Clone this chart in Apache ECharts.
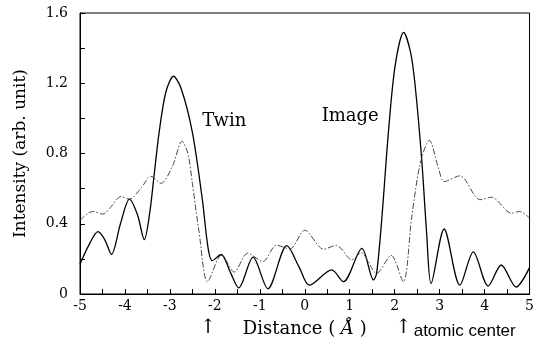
<!DOCTYPE html>
<html>
<head>
<meta charset="utf-8">
<script src="https://cdn.jsdelivr.net/npm/echarts@6/dist/echarts.min.js"></script>
<style>
  html, body { margin: 0; padding: 0; background: #fff; }
  #chart { width: 537px; height: 354px; }
</style>
</head>
<body>
<div id="chart"></div>
<script>
// image intensity (solid) – [distance, intensity]
const imageCurve = [
  [-5.0, 0.17], [-4.8, 0.28], [-4.6, 0.355], [-4.45, 0.31], [-4.3, 0.225],
  [-4.1, 0.40], [-3.9, 0.54], [-3.72, 0.45], [-3.57, 0.31], [-3.45, 0.46],
  [-3.35, 0.68], [-3.24, 0.92], [-3.09, 1.15], [-2.92, 1.24], [-2.75, 1.17],
  [-2.5, 0.92], [-2.28, 0.54], [-2.15, 0.26], [-2.06, 0.19], [-1.86, 0.225],
  [-1.65, 0.12], [-1.47, 0.035], [-1.15, 0.21], [-0.82, 0.03], [-0.4, 0.275],
  [-0.12, 0.15], [0.1, 0.05], [0.6, 0.137], [0.86, 0.07], [1.27, 0.26],
  [1.53, 0.08], [1.6, 0.12], [1.72, 0.45], [1.86, 0.92], [2.01, 1.30],
  [2.2, 1.49], [2.35, 1.38], [2.45, 1.20], [2.6, 0.77], [2.71, 0.35],
  [2.81, 0.06], [3.1, 0.37], [3.45, 0.05], [3.75, 0.24], [4.08, 0.045],
  [4.37, 0.165], [4.7, 0.04], [5.0, 0.15]
]

// twin intensity (dash-dot)
const twinCurve = [
  [-5.0, 0.42], [-4.72, 0.47], [-4.49, 0.455], [-4.3, 0.50], [-4.09, 0.555],
  [-3.9, 0.54], [-3.65, 0.60], [-3.42, 0.67], [-3.2, 0.63], [-2.94, 0.73],
  [-2.73, 0.87], [-2.6, 0.80], [-2.5, 0.63], [-2.35, 0.35], [-2.16, 0.07],
  [-1.85, 0.222], [-1.57, 0.125], [-1.27, 0.232], [-0.93, 0.185], [-0.63, 0.278],
  [-0.33, 0.257], [0.0, 0.363], [0.42, 0.255], [0.7, 0.277], [1.05, 0.195],
  [1.25, 0.235], [1.6, 0.118], [1.92, 0.22], [2.19, 0.07], [2.38, 0.44],
  [2.57, 0.745], [2.77, 0.875], [2.97, 0.72], [3.1, 0.64], [3.45, 0.673],
  [3.9, 0.537], [4.15, 0.551], [4.6, 0.46], [4.78, 0.47], [5.0, 0.432]
]

const textLabels = ['Twin', 'Image']
const textPos = [[-1.79, 0.985], [1.01, 1.01]]
const arrowX = [-2.15, 2.2]

const SERIF = '"DejaVu Serif", serif'

const chart = echarts.init(document.getElementById('chart'))

chart.setOption({
  animation: false,
  backgroundColor: '#fff',
  grid: {
    left: 80, right: 5, top: 13, bottom: 60,
    show: true, borderColor: '#000', borderWidth: 1,
  },
  xAxis: {
    type: 'value',
    min: -5, max: 5, interval: 1,
    name: 'Distance ( {i|Å} )',
    nameLocation: 'middle',
    nameGap: 26,
    nameTextStyle: {
      color: '#000', fontFamily: SERIF, fontSize: 18,
      rich: { i: { fontStyle: 'italic', fontFamily: SERIF, fontSize: 18, color: '#000' } },
    },
    axisLine: { show: true, onZero: false, lineStyle: { color: '#000', width: 1 } },
    axisTick: { inside: true, length: 5, lineStyle: { color: '#000' } },
    minorTick: { show: true, splitNumber: 2, length: 5, lineStyle: { color: '#000' } },
    splitLine: { show: false },
    axisLabel: { color: '#000', fontFamily: SERIF, fontSize: 14, margin: 5, formatter: (v) => String(v) },
  },
  yAxis: {
    type: 'value',
    min: 0, max: 1.6, interval: 0.4,
    name: 'Intensity (arb. unit)',
    nameLocation: 'middle',
    nameGap: 51,
    nameTextStyle: { color: '#000', fontFamily: SERIF, fontSize: 17 },
    axisLine: { show: true, onZero: false, lineStyle: { color: '#000', width: 1 } },
    axisTick: { inside: true, length: 5, lineStyle: { color: '#000' } },
    minorTick: { show: true, splitNumber: 2, length: 5, lineStyle: { color: '#000' } },
    splitLine: { show: false },
    axisLabel: {
      color: '#000', fontFamily: SERIF, fontSize: 14, margin: 12,
      formatter: (v) => (v === 0 ? '0' : v.toFixed(1)),
    },
  },
  series: [
    {
      type: 'line',
      name: 'Image',
      data: imageCurve,
      showSymbol: false,
      smooth: 0.3,
      lineStyle: { color: '#000', width: 1.3 },
    },
    {
      type: 'line',
      name: 'Twin',
      data: twinCurve,
      showSymbol: false,
      smooth: 0.3,
      lineStyle: { color: '#333', width: 0.9, type: [6, 2, 1.5, 2] },
    },
  ],
})

// annotations placed through the axes' own scales
const graphics = []
textLabels.forEach((t, i) => {
  const p = chart.convertToPixel({ gridIndex: 0 }, textPos[i])
  graphics.push({
    type: 'text', x: p[0], y: p[1],
    style: { text: t, fill: '#000', font: '18px ' + SERIF, align: 'center', verticalAlign: 'middle' },
  })
})
const y0 = chart.convertToPixel({ yAxisIndex: 0 }, 0)
arrowX.forEach((xv) => {
  const px = chart.convertToPixel({ xAxisIndex: 0 }, xv)
  graphics.push({
    type: 'text', x: px, y: y0 + 34,
    style: { text: '↑', fill: '#000', font: '20px ' + SERIF, align: 'center', verticalAlign: 'middle' },
  })
})
const pxRight = chart.convertToPixel({ xAxisIndex: 0 }, arrowX[1])
graphics.push({
  type: 'text', x: pxRight + 10, y: y0 + 46,
  style: { text: 'atomic center', fill: '#000', font: '17px "Liberation Sans", sans-serif', align: 'left', verticalAlign: 'bottom' },
})
chart.setOption({ graphic: graphics })
</script>
</body>
</html>
